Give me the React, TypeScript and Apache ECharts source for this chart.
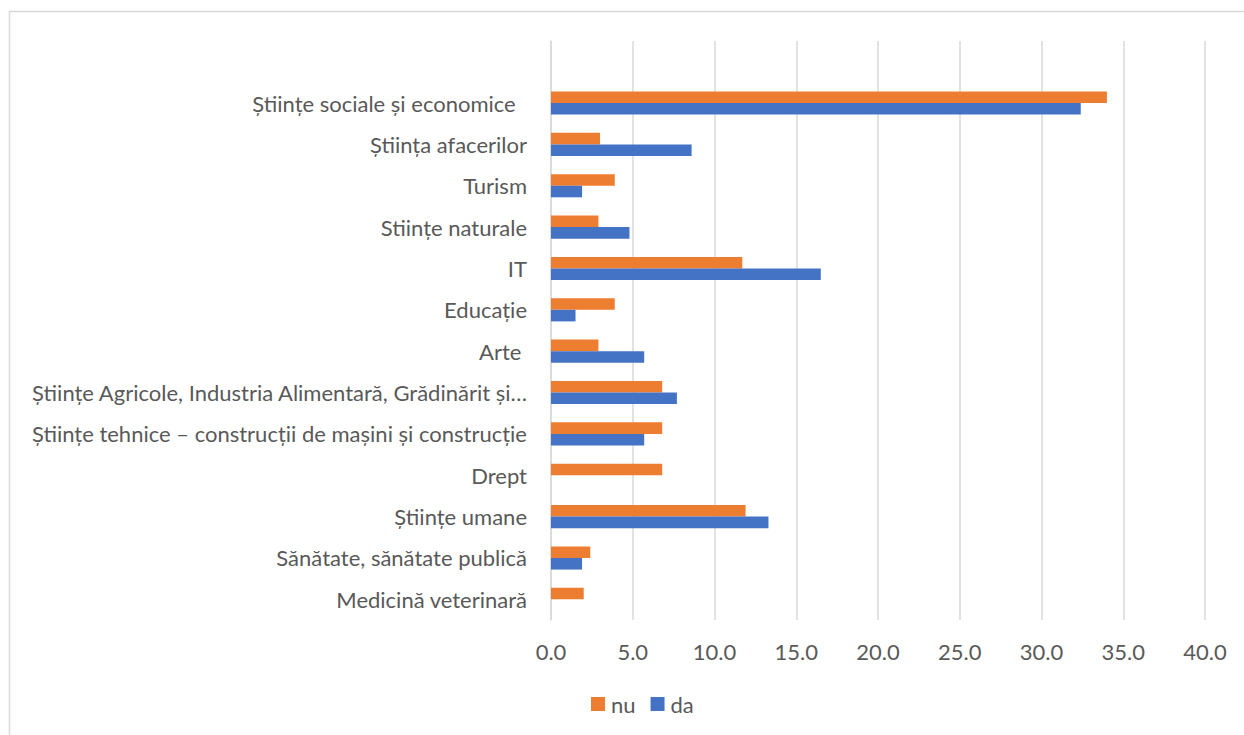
import React, { useEffect, useRef } from "react";
import * as echarts from "echarts";

const categories: string[] = [
  "",
  "Științe sociale și economice\u00a0\u00a0",
  "Știința afacerilor",
  "Turism",
  "Stiințe naturale",
  "IT",
  "Educație",
  "Arte\u00a0",
  "Științe Agricole, Industria Alimentară, Grădinărit și…",
  "Științe tehnice – construcții de mașini și construcție",
  "Drept",
  "Științe umane",
  "Sănătate, sănătate publică",
  "Medicină veterinară",
];

const nuValues: (number | null)[] = [null, 34.0, 3.0, 3.9, 2.9, 11.7, 3.9, 2.9, 6.8, 6.8, 6.8, 11.9, 2.4, 2.0];
const daValues: (number | null)[] = [null, 32.4, 8.6, 1.9, 4.8, 16.5, 1.5, 5.7, 7.7, 5.7, 0, 13.3, 1.9, 0];

const xTicks = { min: 0, max: 40, interval: 5 };

const FONT = "Lato";
const TEXT = "#595959";
const GRID = "#d9d9d9";

export default function App() {
  const ref = useRef<HTMLDivElement>(null);
  useEffect(() => {
    if (!ref.current) return;
    const chart = echarts.init(ref.current, undefined, { renderer: "svg" });
    chart.setOption({
      animation: false,
      backgroundColor: "#ffffff",
      textStyle: { fontFamily: FONT },
      graphic: [
        {
          type: "rect",
          shape: { x: 9.5, y: 11.5, width: 1300, height: 800 },
          style: { fill: "none", stroke: GRID, lineWidth: 1.5 },
          silent: true,
        },
      ],
      grid: { left: 551, right: 39, top: 41, bottom: 115, containLabel: false },
      legend: {
        data: ["nu", "da"],
        left: 586,
        top: 688,
        icon: "rect",
        itemWidth: 14,
        itemHeight: 14,
        itemGap: 15,
        textStyle: { color: TEXT, fontSize: 22, fontFamily: FONT, padding: [0, 0, 0, 1] },
      },
      xAxis: {
        type: "value",
        min: xTicks.min,
        max: xTicks.max,
        interval: xTicks.interval,
        axisLine: { show: false },
        axisTick: { show: false },
        splitLine: { show: true, lineStyle: { color: GRID, width: 1.5 } },
        axisLabel: {
          color: TEXT,
          fontSize: 22,
          fontFamily: FONT,
          margin: 20,
          formatter: (v: number) => v.toFixed(1),
        },
      },
      yAxis: {
        type: "category",
        data: categories,
        inverse: true,
        axisLine: { show: true, lineStyle: { color: GRID, width: 1.5 } },
        axisTick: { show: false },
        axisLabel: { color: TEXT, fontSize: 22, fontFamily: FONT, margin: 24 },
      },
      series: [
        {
          name: "nu",
          type: "bar",
          data: nuValues,
          itemStyle: { color: "#ed7d31" },
          barGap: "0%",
          barCategoryGap: "44%",
        },
        {
          name: "da",
          type: "bar",
          data: daValues,
          itemStyle: { color: "#4472c4" },
          barGap: "0%",
          barCategoryGap: "44%",
        },
      ],
    });
    return () => chart.dispose();
  }, []);
  return (
    <div
      ref={ref}
      style={{ position: "absolute", left: 0, top: 0, width: 1244, height: 735 }}
    />
  );
}
